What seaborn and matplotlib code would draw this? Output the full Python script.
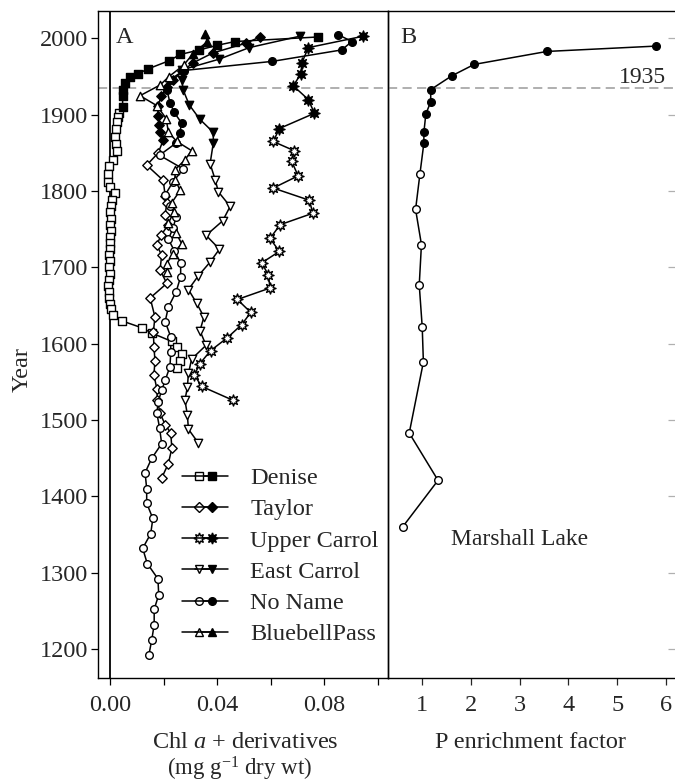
import matplotlib
matplotlib.use("Agg")
import matplotlib.pyplot as plt
from matplotlib.lines import Line2D
from matplotlib.legend_handler import HandlerTuple
from matplotlib.ticker import MultipleLocator
import seaborn as sns
import numpy as np

# --- Panel A: chlorophyll a profiles (year, mg/g) ---
lake_names = ["Denise", "Taylor", "Upper Carrol", "East Carrol", "No Name", "BluebellPass"]

denise_year = [2002, 1996, 1991, 1985, 1979, 1971, 1960, 1954, 1949, 1941,
               1932, 1925, 1910, 1902, 1897, 1891, 1882, 1871, 1862, 1852,
               1841, 1833, 1823, 1812, 1806, 1797, 1788, 1780, 1772, 1764,
               1756, 1748, 1740, 1732, 1724, 1716, 1708, 1700, 1692, 1684,
               1676, 1668, 1660, 1652, 1645, 1638, 1630, 1621, 1614, 1603,
               1596, 1587, 1578, 1568]
denise_chl = [.0779, .0467, .040, .0334, .0262, .0222, .0141, .0106, .0075, .0056,
              .0047, .0047, .0047, .0035, .0031, .0025, .0022, .0019, .0022, .0027,
              .0012, -.0003, -.0006, -.0006, .0, .0019, .0006, .0004, .0001, .0003,
              -.0001, .0002, .0, -.0002, .0001, -.0003, .0, -.0004, -.0002, -.0004,
              -.0006, -.0005, -.0003, .0001, .0004, .0012, .0044, .0118, .0156, .0231,
              .0249, .0268, .0262, .0252]
denise_filled = 13

taylor_year = [2002, 1994, 1981, 1968, 1957, 1945, 1936, 1924, 1911, 1899,
               1887, 1877, 1867, 1850, 1834, 1814, 1794, 1784, 1769, 1756,
               1742, 1729, 1716, 1697, 1679, 1660, 1635, 1616, 1596, 1578,
               1559, 1541, 1526, 1509, 1494, 1483, 1463, 1443, 1424]
taylor_chl = [.056, .051, .0384, .031, .027, .0235, .0212, .019, .018, .0178,
              .0184, .0188, .0199, .018, .0137, .0199, .0206, .0212, .0206, .0218,
              .019, .0175, .0193, .0187, .0212, .015, .0168, .0162, .0164, .0168,
              .0164, .0175, .0177, .0187, .0206, .0227, .0231, .0218, .0193]
taylor_filled = 13

upper_year = [2003, 1988, 1968, 1954, 1938, 1920, 1902, 1882, 1865, 1853,
              1839, 1820, 1804, 1788, 1771, 1756, 1738, 1721, 1706, 1690,
              1673, 1658, 1641, 1625, 1608, 1591, 1574, 1559, 1544, 1526]
upper_chl = [.0947, .0741, .0717, .0714, .0685, .0741, .0764, .0633, .061, .0688,
             .0679, .0703, .061, .0745, .0758, .0636, .0598, .0633, .0567, .0592,
             .0598, .0476, .0526, .0492, .0439, .0376, .0336, .0315, .0343, .0459]
upper_filled = 8

east_year = [2003, 1988, 1973, 1959, 1945, 1932, 1913, 1894, 1877, 1863,
             1836, 1815, 1799, 1780, 1761, 1742, 1724, 1707, 1689, 1671,
             1653, 1635, 1617, 1598, 1580, 1561, 1543, 1526, 1507, 1488, 1470]
east_chl = [.071, .052, .0409, .027, .0268, .0274, .0296, .0336, .0386, .0386,
            .0374, .0393, .0405, .0449, .0421, .0359, .0409, .0374, .033, .0293,
            .0324, .0351, .0336, .0359, .0305, .0293, .0289, .028, .0289, .0293, .033]
east_filled = 10

noname_year = [2005, 1996, 1985, 1970, 1958, 1946, 1933, 1916, 1903, 1889,
               1876, 1863, 1847, 1829, 1812, 1795, 1780, 1766, 1751, 1737,
               1722, 1706, 1688, 1668, 1648, 1629, 1609, 1589, 1570, 1552,
               1539, 1524, 1509, 1490, 1469, 1450, 1431, 1410, 1391, 1371,
               1351, 1332, 1312, 1292, 1271, 1252, 1232, 1212, 1192]
noname_chl = [.0853, .0904, .0866, .0607, .0275, .0225, .0212, .0224, .024, .0268,
              .026, .0247, .0185, .0274, .0235, .0206, .0225, .0247, .0235, .0218,
              .024, .0264, .0264, .0247, .0218, .0206, .0227, .0227, .0224, .0206,
              .0193, .018, .0175, .0185, .0193, .0156, .0131, .0137, .0137, .016,
              .0152, .0122, .0139, .0179, .0182, .0165, .0165, .0156, .0145]
noname_filled = 12

bluebell_year = [2006, 1996, 1980, 1965, 1950, 1939, 1925, 1912, 1895, 1877,
                 1865, 1853, 1841, 1828, 1815, 1801, 1785, 1772, 1758, 1745,
                 1731, 1718, 1705, 1694]
bluebell_chl = [.0355, .0364, .031, .0275, .022, .0187, .0112, .0175, .021, .0218,
                .025, .0305, .028, .0243, .0243, .0262, .0231, .0238, .0218, .0247,
                .0268, .0235, .0212, .0212]
bluebell_filled = 3

# --- Panel B: Marshall Lake P enrichment ---
marshall_year = [1990, 1983, 1966, 1951, 1933, 1917, 1901, 1877, 1863,
                 1823, 1776, 1730, 1677, 1622, 1576, 1483, 1421, 1360]
marshall_p = [5.79, 3.56, 2.07, 1.61, 1.18, 1.18, 1.08, 1.04, 1.04,
              0.96, 0.87, 0.99, 0.945, 1.006, 1.03, 0.74, 1.33, 0.605]
marshall_filled = 9

ref_year = 1935

lakes = [
    (denise_year, denise_chl, denise_filled, "s", 5.5),
    (taylor_year, taylor_chl, taylor_filled, "D", 4.8),
    (upper_year, upper_chl, upper_filled, (8, 1, 0), 8.0),
    (east_year, east_chl, east_filled, "v", 6.0),
    (noname_year, noname_chl, noname_filled, "o", 5.5),
    (bluebell_year, bluebell_chl, bluebell_filled, "^", 6.0),
]

sns.set_style("ticks")
plt.rcParams["font.family"] = ["Liberation Serif", "DejaVu Serif"]
plt.rcParams["mathtext.fontset"] = "custom"
plt.rcParams["mathtext.rm"] = "Liberation Serif"
plt.rcParams["mathtext.it"] = "Liberation Serif:italic"

W, H = 675, 784
fig = plt.figure(figsize=(W / 100, H / 100), dpi=100)
bottom = 1 - 678 / H
height = (678 - 11) / H
axA = fig.add_axes([98 / W, bottom, 290 / W, height])
axB = fig.add_axes([388 / W, bottom, 287 / W, height])
axB.patch.set_visible(False)

ylim = (1162, 2036)


def draw_profile(ax, x, y, n_filled, marker, ms):
    x = np.asarray(x)
    y = np.asarray(y)
    sns.lineplot(x=x, y=y, sort=False, estimator=None, color="black",
                 linewidth=1.1, ax=ax, legend=False, zorder=2)
    sns.scatterplot(x=x[n_filled:], y=y[n_filled:], marker=marker, s=ms ** 2,
                    color="white", edgecolor="black", linewidth=1.0,
                    ax=ax, legend=False, zorder=3)
    sns.scatterplot(x=x[:n_filled], y=y[:n_filled], marker=marker, s=ms ** 2,
                    color="black", edgecolor="black", linewidth=1.0,
                    ax=ax, legend=False, zorder=3)


for yr, chl, nf, mk, ms in lakes:
    draw_profile(axA, chl, yr, nf, mk, ms)

draw_profile(axB, marshall_p, marshall_year, marshall_filled, "o", 5.5)

dash_kw = dict(color="#9a9a9a", linewidth=1.1, dashes=(6, 3.5), zorder=1)
axA.axhline(ref_year, **dash_kw)
axB.axhline(ref_year, **dash_kw)
axA.axvline(0, color="black", linewidth=1.3, zorder=1)

# axes A
axA.set_xlim(-0.0045, 0.1039)
axA.set_ylim(*ylim)
axA.xaxis.set_minor_locator(MultipleLocator(0.02))
axA.set_xticks([0.0, 0.04, 0.08])
axA.set_xticklabels(["0.00", "0.04", "0.08"])
axA.set_yticks(range(1200, 2001, 100))
axA.tick_params(axis="both", which="both", direction="out", length=5, width=0.9,
                labelsize=17.5, color="black")
axA.tick_params(axis="x", which="both", pad=7)
axA.tick_params(axis="y", pad=2)
axA.set_xlabel("")
axA.set_ylabel("")

# axes B
axB.set_xlim(0.305, 6.184)
axB.set_ylim(*ylim)
axB.set_xticks(range(1, 7))
axB.set_yticks(range(1200, 2001, 100))
axB.yaxis.set_ticks_position("right")
axB.tick_params(axis="y", direction="in", length=5, width=0.9, color="#b0b0b0",
                labelright=False, labelleft=False)
axB.tick_params(axis="x", direction="out", length=5, width=0.9, labelsize=17.5, pad=7)
axB.set_xlabel("")
axB.set_ylabel("")

for ax in (axA, axB):
    for side in ("top", "bottom", "left", "right"):
        ax.spines[side].set_linewidth(1.0)
        ax.spines[side].set_color("black")
axB.spines["right"].set_visible(False)

# legend with open + filled marker per lake
handles = []
for yr, chl, nf, mk, ms in lakes:
    h_open = Line2D([], [], color="black", lw=1.1, marker=mk, ms=ms,
                    mfc="white", mec="black", mew=1.0)
    h_fill = Line2D([], [], color="black", lw=1.1, marker=mk, ms=ms,
                    mfc="black", mec="black", mew=1.0)
    handles.append((h_open, h_fill))
axA.legend(handles, lake_names, handler_map={tuple: HandlerTuple(ndivide=None, pad=-0.85)},
           loc="upper left", bbox_to_anchor=(0.289, 0.316), frameon=False,
           fontsize=17.5, numpoints=1, handlelength=1.92, handletextpad=0.9,
           labelspacing=0.38, borderaxespad=0, borderpad=0)

# annotations
axA.text(0.093, 0.961, "A", transform=axA.transAxes, ha="center", va="center", fontsize=17.5)
axB.text(0.07, 0.961, "B", transform=axB.transAxes, ha="center", va="center", fontsize=17.5)
axB.text(6.0, 1949, "1935", ha="right", va="center", fontsize=17)
axB.text(3.0, 1343, "Marshall Lake", ha="center", va="center", fontsize=17)

fig.text(245 / W, 1 - 742 / H, "Chl $a$ + derivatives", ha="center", va="center", fontsize=17.5)
fig.text(240 / W, 1 - 769 / H, "(mg g$^{-1}$ dry wt)", ha="center", va="center", fontsize=16.5)
fig.text(530 / W, 1 - 742 / H, "P enrichment factor", ha="center", va="center", fontsize=17.5)
fig.text(22 / W, 1 - 370 / H, "Year", ha="center", va="center", rotation=90, fontsize=17.5)

fig.savefig("out.png", dpi=100)
